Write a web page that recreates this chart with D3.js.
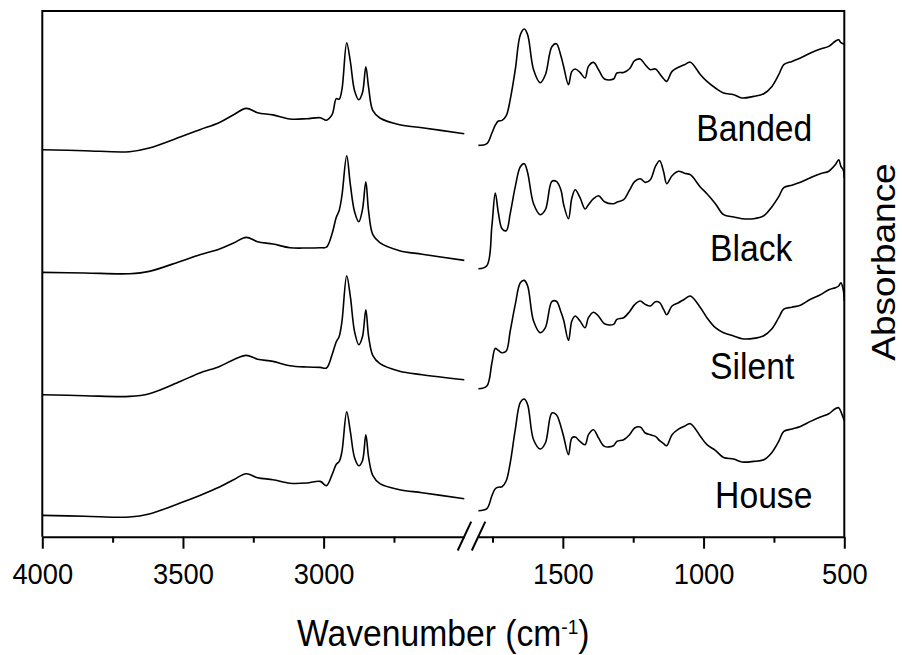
<!DOCTYPE html>
<html><head><meta charset="utf-8">
<script src="https://cdn.jsdelivr.net/npm/d3@7/dist/d3.min.js"></script>
<style>
body{margin:0;background:#fff}
svg{display:block}
text{font-family:"Liberation Sans",Arial,Helvetica,sans-serif;fill:#000}
</style>
</head><body>
<svg id="chart" width="902" height="655"></svg>
<script>
// ---------------- data ----------------
const seriesNames = ["Banded", "Black", "Silent", "House"];

// high-wavenumber segment (4000-2500 cm-1)
const wnHigh = [4000, 3850, 3690, 3620, 3510, 3440, 3370, 3320, 3275, 3235, 3180, 3120, 3060, 3012, 2990,
  2970, 2955, 2945, 2935, 2918, 2905, 2890, 2875, 2862, 2850, 2840, 2825, 2800, 2730, 2650, 2500];

const bandedHigh = [3.87, 3.86, 3.85, 3.887, 3.997, 4.07, 4.143, 4.22, 4.283, 4.24, 4.218, 4.177, 4.18, 4.19, 4.165,
  4.22, 4.38, 4.375, 4.47, 4.94, 4.75, 4.46, 4.37, 4.44, 4.70, 4.49, 4.26, 4.187, 4.12, 4.09, 4.03];
const blackHigh = [2.643, 2.637, 2.63, 2.653, 2.753, 2.82, 2.877, 2.937, 2.993, 2.95, 2.927, 2.89, 2.887, 2.89, 2.895,
  3.03, 3.195, 3.26, 3.41, 3.81, 3.52, 3.25, 3.15, 3.27, 3.55, 3.25, 3.02, 2.94, 2.86, 2.825, 2.763];
const silentHigh = [1.42, 1.41, 1.403, 1.43, 1.553, 1.637, 1.703, 1.77, 1.813, 1.775, 1.753, 1.71, 1.697, 1.693, 1.687,
  1.82, 1.95, 2.0, 2.15, 2.61, 2.40, 2.05, 1.92, 2.00, 2.27, 2.00, 1.81, 1.73, 1.655, 1.62, 1.57];
const houseHigh = [0.213, 0.205, 0.197, 0.227, 0.337, 0.413, 0.497, 0.57, 0.63, 0.59, 0.57, 0.535, 0.537, 0.553, 0.51,
  0.62, 0.725, 0.75, 0.85, 1.25, 1.05, 0.79, 0.71, 0.76, 1.02, 0.79, 0.61, 0.53, 0.47, 0.44, 0.38];

// low-wavenumber segment (1800-500 cm-1)
const wnLow = [1800, 1770, 1752, 1740, 1729, 1716, 1701, 1687, 1669, 1651, 1637, 1625, 1604, 1580, 1562, 1539,
  1523, 1507, 1497, 1480, 1468, 1456, 1439, 1421, 1409, 1391, 1373, 1352, 1320, 1308, 1284, 1263, 1245, 1225,
  1207, 1189, 1171, 1156, 1142, 1131, 1112, 1089, 1068, 1047, 1011, 988, 958, 929, 893, 863, 822, 786, 757,
  733, 715, 686, 656, 620, 585, 555, 532, 520, 512, 504, 500];

const bandedLow = [3.913, 3.93, 4.037, 4.115, 4.157, 4.163, 4.21, 4.37, 4.67, 5.02, 5.077, 5.02, 4.67, 4.54, 4.62, 4.90,
  4.93, 4.81, 4.70, 4.52, 4.653, 4.677, 4.643, 4.587, 4.703, 4.743, 4.67, 4.577, 4.577, 4.637, 4.643, 4.68, 4.76, 4.777,
  4.72, 4.67, 4.677, 4.63, 4.58, 4.553, 4.653, 4.695, 4.72, 4.745, 4.62, 4.553, 4.487, 4.437, 4.42, 4.387, 4.403, 4.43, 4.503,
  4.62, 4.72, 4.753, 4.787, 4.837, 4.877, 4.903, 4.955, 4.97, 4.94, 4.93, 4.925];
const blackLow = [2.68, 2.71, 3.11, 3.437, 3.237, 3.08, 3.06, 3.23, 3.50, 3.70, 3.73, 3.64, 3.33, 3.22, 3.27, 3.553,
  3.553, 3.47, 3.32, 3.18, 3.387, 3.47, 3.39, 3.277, 3.32, 3.38, 3.41, 3.35, 3.33, 3.345, 3.37, 3.465, 3.55, 3.58,
  3.543, 3.57, 3.703, 3.76, 3.65, 3.53, 3.61, 3.655, 3.635, 3.62, 3.495, 3.43, 3.33, 3.22, 3.197, 3.18, 3.18, 3.21, 3.30,
  3.40, 3.49, 3.515, 3.545, 3.59, 3.63, 3.655, 3.72, 3.77, 3.703, 3.67, 3.587];
const silentLow = [1.48, 1.507, 1.74, 1.883, 1.863, 1.84, 1.857, 2.057, 2.323, 2.54, 2.563, 2.507, 2.157, 2.04, 2.09, 2.35,
  2.355, 2.25, 2.165, 1.963, 2.157, 2.207, 2.157, 2.09, 2.19, 2.245, 2.205, 2.13, 2.123, 2.173, 2.19, 2.25, 2.32, 2.357,
  2.323, 2.307, 2.35, 2.34, 2.273, 2.22, 2.307, 2.34, 2.375, 2.407, 2.29, 2.19, 2.09, 2.04, 2.007, 1.98, 1.983, 2.01, 2.08,
  2.19, 2.275, 2.295, 2.315, 2.375, 2.42, 2.47, 2.49, 2.507, 2.54, 2.473, 2.357];
const houseLow = [0.26, 0.28, 0.41, 0.48, 0.495, 0.50, 0.56, 0.737, 1.07, 1.343, 1.377, 1.32, 0.97, 0.877, 0.937, 1.237,
  1.22, 1.103, 1.00, 0.82, 0.987, 0.997, 0.953, 0.92, 1.02, 1.07, 0.987, 0.903, 0.91, 0.953, 0.97, 1.02, 1.087, 1.097,
  1.037, 1.02, 1.003, 0.96, 0.93, 0.91, 1.02, 1.075, 1.105, 1.13, 1.003, 0.92, 0.863, 0.792, 0.777, 0.747, 0.753, 0.77, 0.843,
  0.953, 1.053, 1.077, 1.103, 1.153, 1.197, 1.23, 1.28, 1.29, 1.25, 1.19, 1.16];

const highTicks = [4000, 3500, 3000];
const highMinor = [3750, 3250, 2750];
const lowTicks = [1500, 1000, 500];
const lowMinor = [1750, 1250, 750];

// label anchors in data units (wavenumber, absorbance)
const labelWn = [1026, 977, 977, 959];
const labelAbs = [3.953, 2.753, 1.573, 0.287];

const xTitle = "Wavenumber (cm";
const xTitleSup = "-1";
const yTitle = "Absorbance";

// ---------------- layout ----------------
const svg = d3.select("#chart");
const mLeft = 42.3, mRight = 844.3, mTop = 11, mBottom = 536.7;
const xHigh = d3.scaleLinear().domain([4000, 2500]).range([mLeft, 464.3]);
const xLow = d3.scaleLinear().domain([1800, 500]).range([478.4, mRight]);
const y = d3.scaleLinear().domain([0, 5.257]).range([mBottom, mTop]);
const SX = 0.91;

const highSeries = [bandedHigh, blackHigh, silentHigh, houseHigh];
const lowSeries = [bandedLow, blackLow, silentLow, houseLow];

const lineHigh = d3.line().x(d => xHigh(d[0])).y(d => y(d[1])).curve(d3.curveCatmullRom.alpha(0.5));
const lineLow = d3.line().x(d => xLow(d[0])).y(d => y(d[1])).curve(d3.curveCatmullRom.alpha(0.5));

const gLines = svg.append("g");
seriesNames.forEach((name, i) => {
  gLines.append("path")
    .datum(wnHigh.map((w, j) => [w, highSeries[i][j]]))
    .attr("d", lineHigh).attr("fill", "none").attr("stroke", "#000")
    .attr("stroke-width", 1.6).attr("stroke-linejoin", "round");
  gLines.append("path")
    .datum(wnLow.map((w, j) => [w, lowSeries[i][j]]))
    .attr("d", lineLow).attr("fill", "none").attr("stroke", "#000")
    .attr("stroke-width", 1.6).attr("stroke-linejoin", "round");
  svg.append("text")
    .attr("transform", `translate(${xLow(labelWn[i])},${y(labelAbs[i])}) scale(${SX},1)`)
    .attr("font-size", 37).text(name);
});

// frame (left, top, right)
svg.append("path")
  .attr("d", `M${mLeft},${mBottom}V${mTop}H${mRight}V${mBottom}`)
  .attr("fill", "none").attr("stroke", "#000").attr("stroke-width", 2);

// bottom axes
function drawAxis(scale, majors, minors) {
  const g = svg.append("g").attr("transform", `translate(0,${mBottom})`);
  g.call(d3.axisBottom(scale).tickValues(majors).tickFormat(d3.format("d"))
    .tickSize(12).tickSizeOuter(0).tickPadding(14));
  g.select(".domain").attr("stroke-width", 2).attr("stroke", "#000");
  g.selectAll(".tick line").attr("stroke-width", 2).attr("stroke", "#000");
  g.selectAll(".tick text").attr("font-size", 30).attr("font-family", '"Liberation Sans",Arial,sans-serif')
    .attr("fill", "#000").attr("transform", `scale(${SX},1)`);
  const gm = svg.append("g").attr("transform", `translate(0,${mBottom})`);
  gm.call(d3.axisBottom(scale).tickValues(minors).tickSize(6).tickSizeOuter(0).tickFormat(""));
  gm.select(".domain").remove();
  gm.selectAll(".tick line").attr("stroke-width", 2).attr("stroke", "#000");
}
drawAxis(xHigh, highTicks, highMinor);
drawAxis(xLow, lowTicks, lowMinor);

// break marks
[xHigh(2500), xLow(1800)].forEach(cx => {
  svg.append("line")
    .attr("x1", cx - 6.6).attr("y1", mBottom + 13.8)
    .attr("x2", cx + 6.9).attr("y2", mBottom - 15)
    .attr("stroke", "#000").attr("stroke-width", 2);
});

// axis titles
const xt = svg.append("text")
  .attr("transform", `translate(${(mLeft + mRight) / 2},646) scale(${SX},1)`)
  .attr("text-anchor", "middle").attr("font-size", 37);
xt.append("tspan").text(xTitle);
xt.append("tspan").attr("font-size", 21).attr("dy", -12).text(xTitleSup);
xt.append("tspan").attr("dy", 12).text(")");

svg.append("text")
  .attr("transform", `translate(895,262) rotate(-90) scale(1,${SX})`)
  .attr("text-anchor", "middle").attr("font-size", 37).text(yTitle);
</script>
</body></html>
